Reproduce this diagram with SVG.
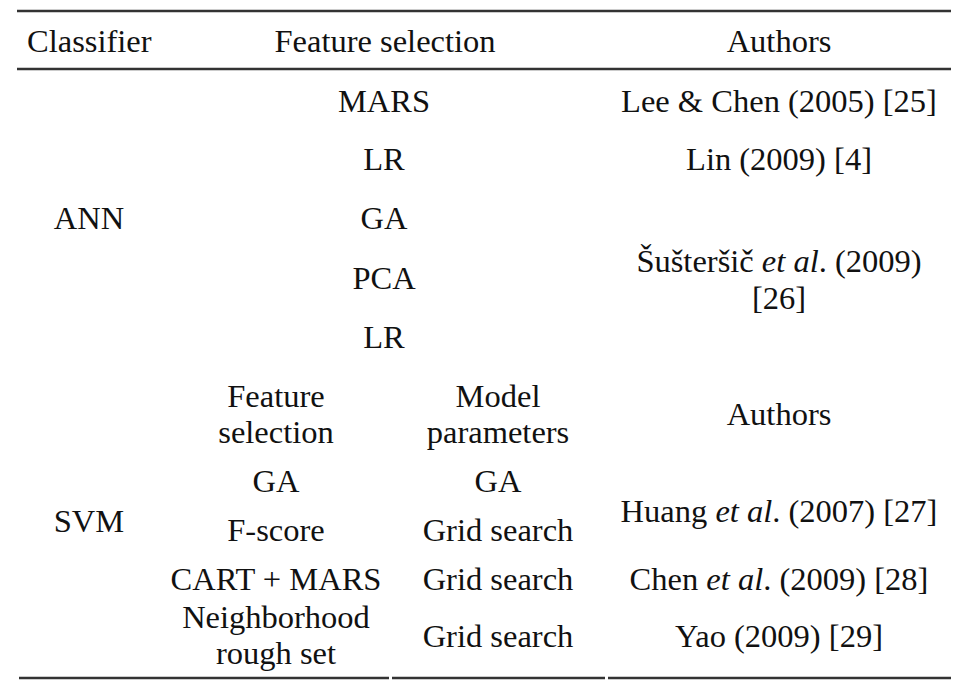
<svg xmlns="http://www.w3.org/2000/svg" width="959" height="696" viewBox="0 0 959 696">
<style>
text{font-family:"Liberation Serif","Times New Roman",serif;font-size:32.5px;fill:#111;text-anchor:middle}
.l{text-anchor:start}
.i{font-style:italic}
.rule{stroke:#333;stroke-width:2.5;fill:none}
</style>
<rect width="959" height="696" fill="#fff"/>
<g id="rules">
<line class="rule" x1="17" y1="11" x2="951" y2="11"/>
<line class="rule" x1="17" y1="69" x2="951" y2="69"/>
<line class="rule" x1="19" y1="678" x2="389" y2="678"/>
<line class="rule" x1="392" y1="678" x2="605" y2="678"/>
<line class="rule" x1="608" y1="678" x2="951" y2="678"/>
</g>
<g id="header">
<text class="l" x="27" y="52">Classifier</text>
<text x="385" y="52">Feature selection</text>
<text x="779" y="52">Authors</text>
</g>
<g id="ann">
<text x="89" y="229">ANN</text>
<text x="384" y="112">MARS</text>
<text x="384" y="170">LR</text>
<text x="384" y="229">GA</text>
<text x="384" y="289">PCA</text>
<text x="384" y="348">LR</text>
<text x="779" y="112">Lee &amp; Chen (2005) [25]</text>
<text x="779" y="170">Lin (2009) [4]</text>
<text x="779" y="272">Šušteršič <tspan class="i">et al</tspan>. (2009)</text>
<text x="779" y="309">[26]</text>
</g>
<g id="svm-header">
<text x="276" y="407">Feature</text>
<text x="276" y="443">selection</text>
<text x="498" y="407">Model</text>
<text x="498" y="443">parameters</text>
<text x="779" y="425">Authors</text>
</g>
<g id="svm">
<text x="89" y="532">SVM</text>
<text x="276" y="492">GA</text>
<text x="498" y="492">GA</text>
<text x="276" y="541">F-score</text>
<text x="498" y="541">Grid search</text>
<text x="779" y="522">Huang <tspan class="i">et al</tspan>. (2007) [27]</text>
<text x="276" y="590">CART + MARS</text>
<text x="498" y="590">Grid search</text>
<text x="779" y="590">Chen <tspan class="i">et al</tspan>. (2009) [28]</text>
<text x="276" y="628">Neighborhood</text>
<text x="276" y="664">rough set</text>
<text x="498" y="647">Grid search</text>
<text x="779" y="647">Yao (2009) [29]</text>
</g>
</svg>
